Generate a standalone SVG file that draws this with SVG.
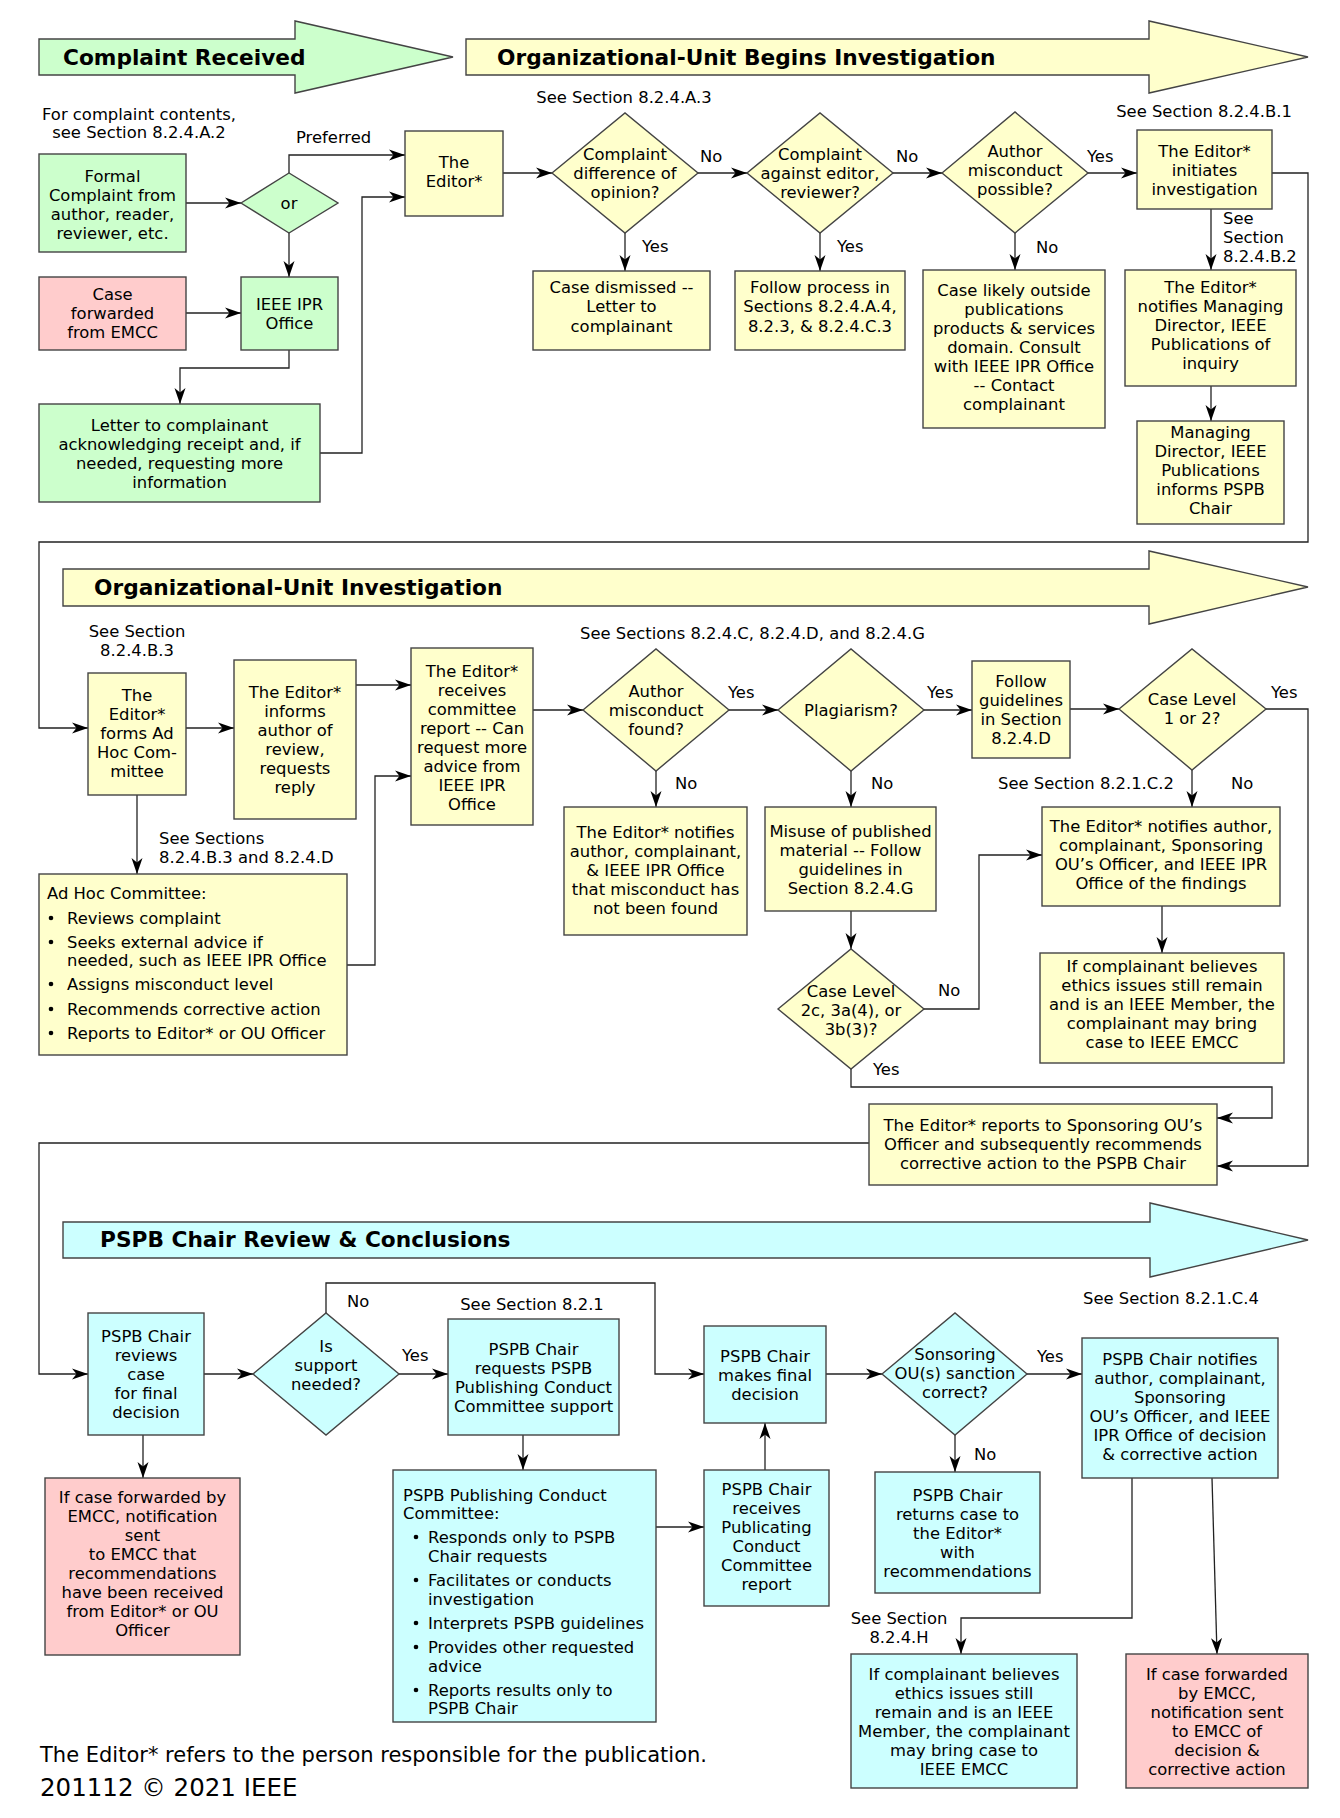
<svg xmlns="http://www.w3.org/2000/svg" width="1340" height="1818" viewBox="0 0 1340 1818">
<style>
text{font-family:"DejaVu Sans",Verdana,sans-serif;font-size:16.4px;fill:#000}
.m{text-anchor:middle}
.bt{font-family:"DejaVu Sans",Verdana,sans-serif;font-weight:bold;font-size:21.7px}
.ft{font-size:21px}
.ft2{font-size:24.5px}
.n rect,.n polygon,.bn{stroke:#444;stroke-width:1.4}
.g{fill:#ccffcc}.y{fill:#ffffcc}.p{fill:#ffcccc}.c{fill:#ccffff}
#conn path{fill:none;stroke:#222;stroke-width:1.3}
</style>
<defs>
<marker id="a" markerWidth="17" markerHeight="12" refX="16" refY="6" orient="auto" markerUnits="userSpaceOnUse"><path d="M0,0.5 L16,6 L0,11.5 L4.5,6 z" fill="#000"/></marker>
</defs>
<rect width="1340" height="1818" fill="#fff"/>

<g id="banners">
<polygon class="bn g" points="39,39 295,39 295,21 453,57 295,93 295,75 39,75"/>
<text class="bt" x="63" y="65">Complaint Received</text>
<polygon class="bn y" points="466,39 1149,39 1149,21 1308,57 1149,93 1149,75 466,75"/>
<text class="bt" x="497" y="65">Organizational-Unit Begins Investigation</text>
<polygon class="bn y" points="63,569 1149,569 1149,551 1308,587 1149,624 1149,606 63,606"/>
<text class="bt" x="94" y="595">Organizational-Unit Investigation</text>
<polygon class="bn c" points="63,1222 1150,1222 1150,1203 1308,1240 1150,1277 1150,1258 63,1258"/>
<text class="bt" x="100" y="1247">PSPB Chair Review &amp; Conclusions</text>
</g>

<g id="labels">
<text class="m" x="139" y="120">For complaint contents,</text>
<text class="m" x="139" y="138">see Section 8.2.4.A.2</text>
<text x="296" y="143">Preferred</text>
<text class="m" x="624" y="103">See Section 8.2.4.A.3</text>
<text x="700" y="162">No</text>
<text x="896" y="162">No</text>
<text x="1087" y="162">Yes</text>
<text x="642" y="252">Yes</text>
<text x="837" y="252">Yes</text>
<text x="1036" y="253">No</text>
<text class="m" x="1204" y="117">See Section 8.2.4.B.1</text>
<text x="1223" y="224">See</text>
<text x="1223" y="243">Section</text>
<text x="1223" y="262">8.2.4.B.2</text>
<text class="m" x="137" y="637">See Section</text>
<text class="m" x="137" y="656">8.2.4.B.3</text>
<text x="159" y="844">See Sections</text>
<text x="159" y="863">8.2.4.B.3 and 8.2.4.D</text>
<text x="580" y="639">See Sections 8.2.4.C, 8.2.4.D, and 8.2.4.G</text>
<text x="728" y="698">Yes</text>
<text x="675" y="789">No</text>
<text x="871" y="789">No</text>
<text x="927" y="698">Yes</text>
<text x="1271" y="698">Yes</text>
<text x="998" y="789">See Section 8.2.1.C.2</text>
<text x="1231" y="789">No</text>
<text x="938" y="996">No</text>
<text x="873" y="1075">Yes</text>
<text x="347" y="1307">No</text>
<text x="402" y="1361">Yes</text>
<text class="m" x="532" y="1310">See Section 8.2.1</text>
<text x="1037" y="1362">Yes</text>
<text x="974" y="1460">No</text>
<text class="m" x="1171" y="1304">See Section 8.2.1.C.4</text>
<text class="m" x="899" y="1624">See Section</text>
<text class="m" x="899" y="1643">8.2.4.H</text>
<text class="ft" x="40" y="1762">The Editor* refers to the person responsible for the publication.</text>
<text class="ft2" x="40" y="1796">201112 © 2021 IEEE</text>
</g>

<g id="conn">
<path marker-end="url(#a)" d="M186,203 H241"/>
<path marker-end="url(#a)" d="M289,173 V155 H405"/>
<path marker-end="url(#a)" d="M289,233 V277"/>
<path marker-end="url(#a)" d="M186,313 H241"/>
<path marker-end="url(#a)" d="M289,350 V368 H180 V404"/>
<path marker-end="url(#a)" d="M320,453 H362 V197 H405"/>
<path marker-end="url(#a)" d="M503,173 H552"/>
<path marker-end="url(#a)" d="M698,173 H747"/>
<path marker-end="url(#a)" d="M893,173 H942"/>
<path marker-end="url(#a)" d="M1088,173 H1137"/>
<path marker-end="url(#a)" d="M625,233 V271"/>
<path marker-end="url(#a)" d="M820,233 V271"/>
<path marker-end="url(#a)" d="M1015,233 V270"/>
<path marker-end="url(#a)" d="M1211,209 V270"/>
<path marker-end="url(#a)" d="M1211,386 V421"/>
<path marker-end="url(#a)" d="M1272,173 H1308 V542 H39 V728 H88"/>
<path marker-end="url(#a)" d="M186,728 H234"/>
<path marker-end="url(#a)" d="M356,685 H411"/>
<path marker-end="url(#a)" d="M137,795 V874"/>
<path marker-end="url(#a)" d="M347,965 H375 V776 H411"/>
<path marker-end="url(#a)" d="M533,710 H583"/>
<path marker-end="url(#a)" d="M729,710 H778"/>
<path marker-end="url(#a)" d="M656,771 V807"/>
<path marker-end="url(#a)" d="M851,771 V807"/>
<path marker-end="url(#a)" d="M924,710 H972"/>
<path marker-end="url(#a)" d="M1070,709 H1119"/>
<path marker-end="url(#a)" d="M851,911 V949"/>
<path marker-end="url(#a)" d="M1192,770 V807"/>
<path marker-end="url(#a)" d="M1266,709 H1308 V1166 H1217"/>
<path marker-end="url(#a)" d="M1162,906 V953"/>
<path marker-end="url(#a)" d="M924,1009 H979 V855 H1042"/>
<path marker-end="url(#a)" d="M851,1069 V1087 H1272 V1118 H1217"/>
<path marker-end="url(#a)" d="M869,1143 H39 V1374 H88"/>
<path marker-end="url(#a)" d="M204,1374 H253"/>
<path marker-end="url(#a)" d="M143,1435 V1478"/>
<path marker-end="url(#a)" d="M399,1374 H448"/>
<path marker-end="url(#a)" d="M326,1313 V1283 H655 V1374 H704"/>
<path marker-end="url(#a)" d="M523,1435 V1470"/>
<path marker-end="url(#a)" d="M656,1527 H704"/>
<path marker-end="url(#a)" d="M765,1470 V1423"/>
<path marker-end="url(#a)" d="M826,1374 H882"/>
<path marker-end="url(#a)" d="M1027,1374 H1082"/>
<path marker-end="url(#a)" d="M955,1435 V1472"/>
<path marker-end="url(#a)" d="M1132,1478 V1618 H961 V1654"/>
<path marker-end="url(#a)" d="M1212,1478 L1217,1654"/>
</g>

<g id="formal" class="n"><rect class="g" x="39" y="154" width="147" height="98"/>
<text class="m" x="112.5" y="182">Formal</text><text class="m" x="112.5" y="201">Complaint from</text><text class="m" x="112.5" y="220">author, reader,</text><text class="m" x="112.5" y="239">reviewer, etc.</text></g>
<g id="or" class="n"><polygon class="g" points="241,203 289,173 338,203 289,233"/><text class="m" x="289" y="209">or</text></g>
<g id="forwarded" class="n"><rect class="p" x="39" y="277" width="147" height="73"/>
<text class="m" x="112.5" y="300">Case</text><text class="m" x="112.5" y="319">forwarded</text><text class="m" x="112.5" y="338">from EMCC</text></g>
<g id="ipr" class="n"><rect class="g" x="241" y="277" width="97" height="73"/>
<text class="m" x="289.5" y="310">IEEE IPR</text><text class="m" x="289.5" y="329">Office</text></g>
<g id="letter" class="n"><rect class="g" x="39" y="404" width="281" height="98"/>
<text class="m" x="179.5" y="431">Letter to complainant</text><text class="m" x="179.5" y="450">acknowledging receipt and, if</text><text class="m" x="179.5" y="469">needed, requesting more</text><text class="m" x="179.5" y="488">information</text></g>
<g id="editor" class="n"><rect class="y" x="405" y="131" width="98" height="85"/>
<text class="m" x="454" y="168">The</text><text class="m" x="454" y="187">Editor*</text></g>
<g id="d1" class="n"><polygon class="y" points="552,173 625,113 698,173 625,233"/>
<text class="m" x="625" y="160">Complaint</text><text class="m" x="625" y="179">difference of</text><text class="m" x="625" y="198">opinion?</text></g>
<g id="d2" class="n"><polygon class="y" points="747,173 820,113 893,173 820,233"/>
<text class="m" x="820" y="160">Complaint</text><text class="m" x="820" y="179">against editor,</text><text class="m" x="820" y="198">reviewer?</text></g>
<g id="d3" class="n"><polygon class="y" points="942,173 1015,112 1088,173 1015,233"/>
<text class="m" x="1015" y="157">Author</text><text class="m" x="1015" y="176">misconduct</text><text class="m" x="1015" y="195">possible?</text></g>
<g id="dismissed" class="n"><rect class="y" x="533" y="271" width="177" height="79"/>
<text class="m" x="621.5" y="293">Case dismissed --</text><text class="m" x="621.5" y="312">Letter to</text><text class="m" x="621.5" y="332">complainant</text></g>
<g id="followproc" class="n"><rect class="y" x="735" y="271" width="170" height="79"/>
<text class="m" x="820" y="293">Follow process in</text><text class="m" x="820" y="312">Sections 8.2.4.A.4,</text><text class="m" x="820" y="332">8.2.3, &amp; 8.2.4.C.3</text></g>
<g id="outside" class="n"><rect class="y" x="923" y="270" width="182" height="158"/>
<text class="m" x="1014" y="296">Case likely outside</text><text class="m" x="1014" y="315">publications</text><text class="m" x="1014" y="334">products &amp; services</text><text class="m" x="1014" y="353">domain. Consult</text><text class="m" x="1014" y="372">with IEEE IPR Office</text><text class="m" x="1014" y="391">-- Contact</text><text class="m" x="1014" y="410">complainant</text></g>
<g id="initiates" class="n"><rect class="y" x="1137" y="130" width="135" height="79"/>
<text class="m" x="1204.5" y="157">The Editor*</text><text class="m" x="1204.5" y="176">initiates</text><text class="m" x="1204.5" y="195">investigation</text></g>
<g id="notifymd" class="n"><rect class="y" x="1125" y="270" width="171" height="116"/>
<text class="m" x="1210.5" y="293">The Editor*</text><text class="m" x="1210.5" y="312">notifies Managing</text><text class="m" x="1210.5" y="331">Director, IEEE</text><text class="m" x="1210.5" y="350">Publications of</text><text class="m" x="1210.5" y="369">inquiry</text></g>
<g id="md" class="n"><rect class="y" x="1137" y="421" width="147" height="103"/>
<text class="m" x="1210.5" y="438">Managing</text><text class="m" x="1210.5" y="457">Director, IEEE</text><text class="m" x="1210.5" y="476">Publications</text><text class="m" x="1210.5" y="495">informs PSPB</text><text class="m" x="1210.5" y="514">Chair</text></g>

<g id="forms" class="n"><rect class="y" x="88" y="673" width="98" height="122"/>
<text class="m" x="137" y="701">The</text><text class="m" x="137" y="720">Editor*</text><text class="m" x="137" y="739">forms Ad</text><text class="m" x="137" y="758">Hoc Com-</text><text class="m" x="137" y="777">mittee</text></g>
<g id="informs" class="n"><rect class="y" x="234" y="660" width="122" height="159"/>
<text class="m" x="295" y="698">The Editor*</text><text class="m" x="295" y="717">informs</text><text class="m" x="295" y="736">author of</text><text class="m" x="295" y="755">review,</text><text class="m" x="295" y="774">requests</text><text class="m" x="295" y="793">reply</text></g>
<g id="receives" class="n"><rect class="y" x="411" y="648" width="122" height="177"/>
<text class="m" x="472" y="677">The Editor*</text><text class="m" x="472" y="696">receives</text><text class="m" x="472" y="715">committee</text><text class="m" x="472" y="734">report -- Can</text><text class="m" x="472" y="753">request more</text><text class="m" x="472" y="772">advice from</text><text class="m" x="472" y="791">IEEE IPR</text><text class="m" x="472" y="810">Office</text></g>
<g id="adhoc" class="n"><rect class="y" x="39" y="874" width="308" height="181"/>
<text x="47" y="899">Ad Hoc Committee:</text>
<circle cx="51" cy="918" r="2.3"/><text x="67" y="924">Reviews complaint</text>
<circle cx="51" cy="942" r="2.3"/><text x="67" y="948">Seeks external advice if</text><text x="67" y="966">needed, such as IEEE IPR Office</text>
<circle cx="51" cy="984" r="2.3"/><text x="67" y="990">Assigns misconduct level</text>
<circle cx="51" cy="1009" r="2.3"/><text x="67" y="1015">Recommends corrective action</text>
<circle cx="51" cy="1033" r="2.3"/><text x="67" y="1039">Reports to Editor* or OU Officer</text></g>
<g id="d4" class="n"><polygon class="y" points="583,710 656,649 729,710 656,771"/>
<text class="m" x="656" y="697">Author</text><text class="m" x="656" y="716">misconduct</text><text class="m" x="656" y="735">found?</text></g>
<g id="d5" class="n"><polygon class="y" points="778,710 851,649 924,710 851,771"/>
<text class="m" x="851" y="716">Plagiarism?</text></g>
<g id="notfound" class="n"><rect class="y" x="564" y="807" width="183" height="128"/>
<text class="m" x="655.5" y="838">The Editor* notifies</text><text class="m" x="655.5" y="857">author, complainant,</text><text class="m" x="655.5" y="876">&amp; IEEE IPR Office</text><text class="m" x="655.5" y="895">that misconduct has</text><text class="m" x="655.5" y="914">not been found</text></g>
<g id="misuse" class="n"><rect class="y" x="765" y="807" width="171" height="104"/>
<text class="m" x="850.5" y="837">Misuse of published</text><text class="m" x="850.5" y="856">material -- Follow</text><text class="m" x="850.5" y="875">guidelines in</text><text class="m" x="850.5" y="894">Section 8.2.4.G</text></g>
<g id="d6" class="n"><polygon class="y" points="778,1009 851,949 924,1009 851,1069"/>
<text class="m" x="851" y="997">Case Level</text><text class="m" x="851" y="1016">2c, 3a(4), or</text><text class="m" x="851" y="1035">3b(3)?</text></g>
<g id="followguide" class="n"><rect class="y" x="972" y="661" width="98" height="97"/>
<text class="m" x="1021" y="687">Follow</text><text class="m" x="1021" y="706">guidelines</text><text class="m" x="1021" y="725">in Section</text><text class="m" x="1021" y="744">8.2.4.D</text></g>
<g id="d7" class="n"><polygon class="y" points="1119,709 1192,649 1266,709 1192,770"/>
<text class="m" x="1192" y="705">Case Level</text><text class="m" x="1192" y="724">1 or 2?</text></g>
<g id="findings" class="n"><rect class="y" x="1042" y="807" width="238" height="99"/>
<text class="m" x="1161" y="832">The Editor* notifies author,</text><text class="m" x="1161" y="851">complainant, Sponsoring</text><text class="m" x="1161" y="870">OU’s Officer, and IEEE IPR</text><text class="m" x="1161" y="889">Office of the findings</text></g>
<g id="believes1" class="n"><rect class="y" x="1040" y="953" width="244" height="110"/>
<text class="m" x="1162" y="972">If complainant believes</text><text class="m" x="1162" y="991">ethics issues still remain</text><text class="m" x="1162" y="1010">and is an IEEE Member, the</text><text class="m" x="1162" y="1029">complainant may bring</text><text class="m" x="1162" y="1048">case to IEEE EMCC</text></g>
<g id="reports" class="n"><rect class="y" x="869" y="1104" width="348" height="81"/>
<text class="m" x="1043" y="1131">The Editor* reports to Sponsoring OU’s</text><text class="m" x="1043" y="1150">Officer and subsequently recommends</text><text class="m" x="1043" y="1169">corrective action to the PSPB Chair</text></g>

<g id="reviews" class="n"><rect class="c" x="88" y="1313" width="116" height="122"/>
<text class="m" x="146" y="1342">PSPB Chair</text><text class="m" x="146" y="1361">reviews</text><text class="m" x="146" y="1380">case</text><text class="m" x="146" y="1399">for final</text><text class="m" x="146" y="1418">decision</text></g>
<g id="d8" class="n"><polygon class="c" points="253,1374 326,1313 399,1374 326,1435"/>
<text class="m" x="326" y="1352">Is</text><text class="m" x="326" y="1371">support</text><text class="m" x="326" y="1390">needed?</text></g>
<g id="requests" class="n"><rect class="c" x="448" y="1319" width="171" height="116"/>
<text class="m" x="533.5" y="1355">PSPB Chair</text><text class="m" x="533.5" y="1374">requests PSPB</text><text class="m" x="533.5" y="1393">Publishing Conduct</text><text class="m" x="533.5" y="1412">Committee support</text></g>
<g id="final" class="n"><rect class="c" x="704" y="1326" width="122" height="97"/>
<text class="m" x="765" y="1362">PSPB Chair</text><text class="m" x="765" y="1381">makes final</text><text class="m" x="765" y="1400">decision</text></g>
<g id="d9" class="n"><polygon class="c" points="882,1374 955,1313 1027,1374 955,1435"/>
<text class="m" x="955" y="1360">Sonsoring</text><text class="m" x="955" y="1379">OU(s) sanction</text><text class="m" x="955" y="1398">correct?</text></g>
<g id="pspbnotifies" class="n"><rect class="c" x="1082" y="1338" width="196" height="140"/>
<text class="m" x="1180" y="1365">PSPB Chair notifies</text><text class="m" x="1180" y="1384">author, complainant,</text><text class="m" x="1180" y="1403">Sponsoring</text><text class="m" x="1180" y="1422">OU’s Officer, and IEEE</text><text class="m" x="1180" y="1441">IPR Office of decision</text><text class="m" x="1180" y="1460">&amp; corrective action</text></g>
<g id="red1" class="n"><rect class="p" x="45" y="1478" width="195" height="177"/>
<text class="m" x="142.5" y="1503">If case forwarded by</text><text class="m" x="142.5" y="1522">EMCC, notification</text><text class="m" x="142.5" y="1541">sent</text><text class="m" x="142.5" y="1560">to EMCC that</text><text class="m" x="142.5" y="1579">recommendations</text><text class="m" x="142.5" y="1598">have been received</text><text class="m" x="142.5" y="1617">from Editor* or OU</text><text class="m" x="142.5" y="1636">Officer</text></g>
<g id="pcc" class="n"><rect class="c" x="393" y="1470" width="263" height="252"/>
<text x="403" y="1501">PSPB Publishing Conduct</text><text x="403" y="1519">Committee:</text>
<circle cx="416" cy="1537" r="2.3"/><text x="428" y="1543">Responds only to PSPB</text><text x="428" y="1562">Chair requests</text>
<circle cx="416" cy="1580" r="2.3"/><text x="428" y="1586">Facilitates or conducts</text><text x="428" y="1605">investigation</text>
<circle cx="416" cy="1623" r="2.3"/><text x="428" y="1629">Interprets PSPB guidelines</text>
<circle cx="416" cy="1647" r="2.3"/><text x="428" y="1653">Provides other requested</text><text x="428" y="1672">advice</text>
<circle cx="416" cy="1690" r="2.3"/><text x="428" y="1696">Reports results only to</text><text x="428" y="1714">PSPB Chair</text></g>
<g id="receivesreport" class="n"><rect class="c" x="704" y="1470" width="125" height="136"/>
<text class="m" x="766.5" y="1495">PSPB Chair</text><text class="m" x="766.5" y="1514">receives</text><text class="m" x="766.5" y="1533">Publicating</text><text class="m" x="766.5" y="1552">Conduct</text><text class="m" x="766.5" y="1571">Committee</text><text class="m" x="766.5" y="1590">report</text></g>
<g id="returns" class="n"><rect class="c" x="875" y="1472" width="165" height="121"/>
<text class="m" x="957.5" y="1501">PSPB Chair</text><text class="m" x="957.5" y="1520">returns case to</text><text class="m" x="957.5" y="1539">the Editor*</text><text class="m" x="957.5" y="1558">with</text><text class="m" x="957.5" y="1577">recommendations</text></g>
<g id="believes2" class="n"><rect class="c" x="851" y="1654" width="226" height="134"/>
<text class="m" x="964" y="1680">If complainant believes</text><text class="m" x="964" y="1699">ethics issues still</text><text class="m" x="964" y="1718">remain and is an IEEE</text><text class="m" x="964" y="1737">Member, the complainant</text><text class="m" x="964" y="1756">may bring case to</text><text class="m" x="964" y="1775">IEEE EMCC</text></g>
<g id="red2" class="n"><rect class="p" x="1126" y="1654" width="182" height="134"/>
<text class="m" x="1217" y="1680">If case forwarded</text><text class="m" x="1217" y="1699">by EMCC,</text><text class="m" x="1217" y="1718">notification sent</text><text class="m" x="1217" y="1737">to EMCC of</text><text class="m" x="1217" y="1756">decision &amp;</text><text class="m" x="1217" y="1775">corrective action</text></g>
</svg>
